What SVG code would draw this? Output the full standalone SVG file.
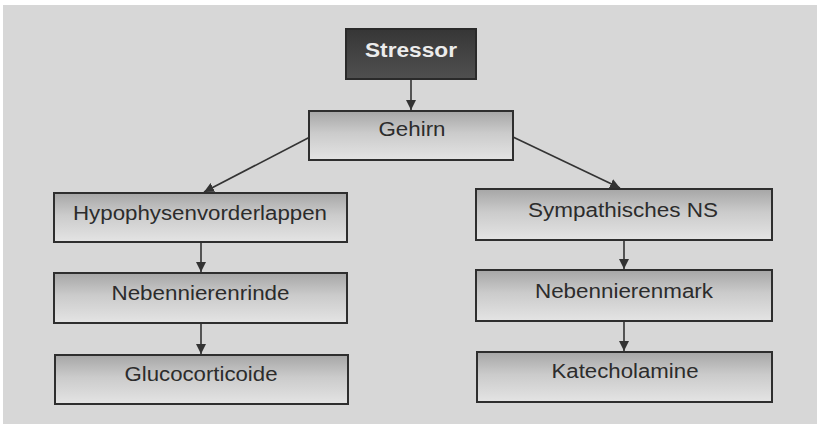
<svg xmlns="http://www.w3.org/2000/svg" width="817" height="424" viewBox="0 0 817 424">
<style>
.box{stroke:#2e2e2e;stroke-width:2;fill:url(#g)}
.t{font-family:"Liberation Sans",Arial,sans-serif;font-size:19.5px;fill:#2c2c2c;text-anchor:middle}
.c{stroke:#333;stroke-width:1.6;fill:none;marker-end:url(#a)}
</style>
<defs>
<linearGradient id="g" x1="0" y1="0" x2="0" y2="1">
<stop offset="0" stop-color="#a6a6a6"/>
<stop offset="0.45" stop-color="#cbcbcb"/>
<stop offset="1" stop-color="#e4e4e4"/>
</linearGradient>
<linearGradient id="d" x1="0" y1="0" x2="0" y2="1">
<stop offset="0" stop-color="#363636"/>
<stop offset="1" stop-color="#505050"/>
</linearGradient>
<marker id="a" viewBox="0 0 10 10" refX="10" refY="5" markerWidth="10" markerHeight="10" markerUnits="userSpaceOnUse" orient="auto">
<path d="M0,0 L10,5 L0,10 z" fill="#333"/>
</marker>
</defs>
<rect x="0" y="0" width="817" height="424" fill="#ffffff"/>
<rect x="3" y="5" width="814" height="419" fill="#d7d7d7"/>
<g id="connectors">
<line class="c" x1="411" y1="79" x2="411" y2="110"/>
<line class="c" x1="310" y1="137" x2="204" y2="192"/>
<line class="c" x1="513" y1="137" x2="620" y2="188"/>
<line class="c" x1="201" y1="242" x2="201" y2="272"/>
<line class="c" x1="201" y1="323" x2="201" y2="354"/>
<line class="c" x1="624" y1="240" x2="624" y2="269"/>
<line class="c" x1="624" y1="321" x2="624" y2="351"/>
</g>
<g id="stressor">
<rect x="346" y="29" width="130" height="50" fill="url(#d)" stroke="#2a2a2a" stroke-width="2"/>
<text x="411" y="57" class="t" style="font-weight:bold;fill:#ececec" textLength="92" lengthAdjust="spacingAndGlyphs">Stressor</text>
</g>
<g id="gehirn">
<rect class="box" x="309" y="111" width="204" height="49"/>
<text x="412" y="136" class="t" textLength="67" lengthAdjust="spacingAndGlyphs">Gehirn</text>
</g>
<g id="hypophyse">
<rect class="box" x="54" y="193" width="293" height="49"/>
<text x="200" y="220" class="t" textLength="254" lengthAdjust="spacingAndGlyphs">Hypophysenvorderlappen</text>
</g>
<g id="nebennierenrinde">
<rect class="box" x="54" y="273" width="293" height="50"/>
<text x="200.5" y="300" class="t" textLength="178" lengthAdjust="spacingAndGlyphs">Nebennierenrinde</text>
</g>
<g id="glucocorticoide">
<rect class="box" x="55" y="355" width="293" height="49"/>
<text x="201" y="381" class="t" textLength="153" lengthAdjust="spacingAndGlyphs">Glucocorticoide</text>
</g>
<g id="sympathisches">
<rect class="box" x="476" y="189" width="296" height="51"/>
<text x="623" y="217" class="t" textLength="190" lengthAdjust="spacingAndGlyphs">Sympathisches NS</text>
</g>
<g id="nebennierenmark">
<rect class="box" x="476" y="270" width="296" height="51"/>
<text x="624" y="298" class="t" textLength="178" lengthAdjust="spacingAndGlyphs">Nebennierenmark</text>
</g>
<g id="katecholamine">
<rect class="box" x="477" y="352" width="295" height="50"/>
<text x="625" y="378" class="t" textLength="147" lengthAdjust="spacingAndGlyphs">Katecholamine</text>
</g>
</svg>
